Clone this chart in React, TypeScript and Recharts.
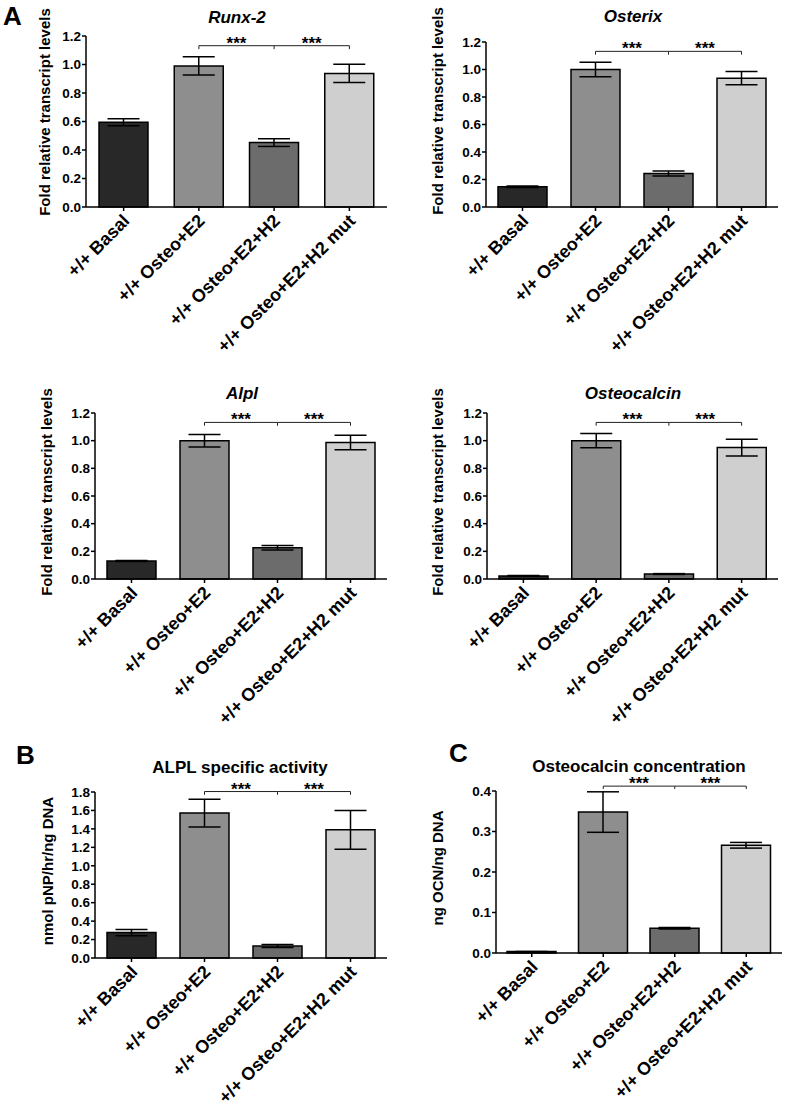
import React from "react";
import { BarChart, Bar, XAxis, YAxis, ErrorBar, Cell, ReferenceLine } from "recharts";

const FONT = "'Liberation Sans', Arial, Helvetica, sans-serif";

const GROUPS = ["+/+ Basal", "+/+ Osteo+E2", "+/+ Osteo+E2+H2", "+/+ Osteo+E2+H2 mut"];
const FILLS = ["#282828", "#8e8e8e", "#6c6c6c", "#cfcfcf"];

const RUNX2 = [0.595, 0.99, 0.452, 0.937];
const RUNX2_ERR = [0.024, 0.064, 0.027, 0.064];
const OSTERIX = [0.147, 1.0, 0.243, 0.937];
const OSTERIX_ERR = [0.005, 0.052, 0.018, 0.048];
const ALPL = [0.13, 1.0, 0.226, 0.987];
const ALPL_ERR = [0.003, 0.045, 0.016, 0.052];
const OCN = [0.022, 1.0, 0.036, 0.95];
const OCN_ERR = [0.003, 0.052, 0.003, 0.061];
const ALPL_ACT = [0.276, 1.571, 0.131, 1.39];
const ALPL_ACT_ERR = [0.034, 0.15, 0.016, 0.21];
const OCN_CONC = [0.0035, 0.348, 0.061, 0.266];
const OCN_CONC_ERR = [0.0005, 0.05, 0.002, 0.007];

const FOLD_TICKS = [0, 0.2, 0.4, 0.6, 0.8, 1.0, 1.2];
const ACT_TICKS = [0, 0.2, 0.4, 0.6, 0.8, 1.0, 1.2, 1.4, 1.6, 1.8];
const CONC_TICKS = [0, 0.1, 0.2, 0.3, 0.4];

// significance brackets: [line level, tip level]
const FOLD_BRACKET = [1.132, 1.108];
const ACT_BRACKET = [1.805, 1.77];
const CONC_BRACKET = [0.412, 0.405];

const rows = (vals: number[], errs: number[]) =>
  GROUPS.map((g, i) => ({ group: g, value: vals[i], err: errs[i] }));

const SlantTick = (props: any) => {
  const { x, y, payload } = props;
  const ax = x + 7;
  const ay = y + 9;
  return (
    <text
      x={ax}
      y={ay}
      transform={`rotate(-45 ${ax} ${ay})`}
      textAnchor="end"
      fontSize={18}
      fontWeight="bold"
      fontFamily={FONT}
      fill="#000"
    >
      {payload.value}
    </text>
  );
};

type PanelProps = {
  plotLeft: number;
  plotTop: number;
  plotW: number;
  plotH: number;
  vals: number[];
  errs: number[];
  ticks: number[];
  bracket: number[];
};

const starLabel = { value: "***", position: "top" as const, offset: -3, fontSize: 17, fontWeight: "bold", fill: "#000", fontFamily: FONT };

function Panel({ plotLeft, plotTop, plotW, plotH, vals, errs, ticks, bracket }: PanelProps) {
  const yw = 50;
  const mt = 30;
  const xh = 150;
  const data = rows(vals, errs);
  const [lv, tv] = bracket;
  return (
    <div style={{ position: "absolute", left: plotLeft - yw, top: plotTop - mt }}>
      <BarChart
        width={yw + plotW + 6}
        height={mt + plotH + xh}
        data={data}
        margin={{ top: mt, right: 6, left: 0, bottom: 0 }}
      >
        <XAxis
          dataKey="group"
          interval={0}
          height={xh}
          tick={<SlantTick />}
          tickSize={4}
          axisLine={{ stroke: "#000", strokeWidth: 1.5 }}
          tickLine={{ stroke: "#000", strokeWidth: 1.5 }}
        />
        <YAxis
          width={yw}
          domain={[ticks[0], ticks[ticks.length - 1]]}
          ticks={ticks}
          interval={0}
          tickSize={4}
          tickMargin={1}
          tickFormatter={(v: number) => v.toFixed(1)}
          tick={{ fontSize: 13.5, fontWeight: "bold", fill: "#000", fontFamily: FONT }}
          axisLine={{ stroke: "#000", strokeWidth: 1.5 }}
          tickLine={{ stroke: "#000", strokeWidth: 1.5 }}
        />
        <Bar dataKey="value" barSize={49} stroke="#000" strokeWidth={1.5} isAnimationActive={false}>
          {data.map((d, i) => (
            <Cell key={d.group} fill={FILLS[i]} />
          ))}
          <ErrorBar dataKey="err" width={16} stroke="#000" strokeWidth={1.5} isAnimationActive={false} />
        </Bar>
        <ReferenceLine
          ifOverflow="visible"
          segment={[{ x: GROUPS[1], y: lv }, { x: GROUPS[2], y: lv }]}
          stroke="#222"
          strokeWidth={1}
          label={starLabel}
        />
        <ReferenceLine
          ifOverflow="visible"
          segment={[{ x: GROUPS[2], y: lv }, { x: GROUPS[3], y: lv }]}
          stroke="#222"
          strokeWidth={1}
          label={starLabel}
        />
        {[1, 2, 3].map((i) => (
          <ReferenceLine
            key={i}
            ifOverflow="visible"
            segment={[{ x: GROUPS[i], y: lv }, { x: GROUPS[i], y: tv }]}
            stroke="#222"
            strokeWidth={1}
          />
        ))}
      </BarChart>
    </div>
  );
}

const titleStyle = { fontFamily: FONT, fontWeight: "bold" as const, fill: "#000" };

export default function App() {
  return (
    <div style={{ position: "absolute", left: 0, top: 0, width: 787, height: 1117, background: "#fff", overflow: "hidden" }}>
      <Panel plotLeft={86} plotTop={36} plotW={301} plotH={171} vals={RUNX2} errs={RUNX2_ERR} ticks={FOLD_TICKS} bracket={FOLD_BRACKET} />
      <Panel plotLeft={486} plotTop={42} plotW={292} plotH={165} vals={OSTERIX} errs={OSTERIX_ERR} ticks={FOLD_TICKS} bracket={FOLD_BRACKET} />
      <Panel plotLeft={95} plotTop={413} plotW={292} plotH={166} vals={ALPL} errs={ALPL_ERR} ticks={FOLD_TICKS} bracket={FOLD_BRACKET} />
      <Panel plotLeft={487} plotTop={413} plotW={291} plotH={166} vals={OCN} errs={OCN_ERR} ticks={FOLD_TICKS} bracket={FOLD_BRACKET} />
      <Panel plotLeft={95} plotTop={792} plotW={292} plotH={166} vals={ALPL_ACT} errs={ALPL_ACT_ERR} ticks={ACT_TICKS} bracket={ACT_BRACKET} />
      <Panel plotLeft={496} plotTop={791} plotW={286} plotH={162} vals={OCN_CONC} errs={OCN_CONC_ERR} ticks={CONC_TICKS} bracket={CONC_BRACKET} />
      <svg width={787} height={1117} style={{ position: "absolute", left: 0, top: 0, pointerEvents: "none" }}>
        <text x={3} y={25} fontSize={26} {...titleStyle}>A</text>
        <text x={16} y={764} fontSize={26} {...titleStyle}>B</text>
        <text x={449} y={762} fontSize={26} {...titleStyle}>C</text>

        <text x={237} y={23} fontSize={17} fontStyle="italic" textAnchor="middle" {...titleStyle}>Runx-2</text>
        <text x={633} y={22} fontSize={17} fontStyle="italic" textAnchor="middle" {...titleStyle}>Osterix</text>
        <text x={242} y={399} fontSize={17} fontStyle="italic" textAnchor="middle" {...titleStyle}>Alpl</text>
        <text x={633} y={399} fontSize={17} fontStyle="italic" textAnchor="middle" {...titleStyle}>Osteocalcin</text>
        <text x={240} y={773} fontSize={17} textAnchor="middle" {...titleStyle}>ALPL specific activity</text>
        <text x={639} y={772} fontSize={17} textAnchor="middle" {...titleStyle}>Osteocalcin concentration</text>

        <text transform="translate(44 112) rotate(-90)" fontSize={15} textAnchor="middle" dominantBaseline="central" {...titleStyle}>Fold relative transcript levels</text>
        <text transform="translate(437 111) rotate(-90)" fontSize={15} textAnchor="middle" dominantBaseline="central" {...titleStyle}>Fold relative transcript levels</text>
        <text transform="translate(46 492) rotate(-90)" fontSize={15} textAnchor="middle" dominantBaseline="central" {...titleStyle}>Fold relative transcript levels</text>
        <text transform="translate(437 492) rotate(-90)" fontSize={15} textAnchor="middle" dominantBaseline="central" {...titleStyle}>Fold relative transcript levels</text>
        <text transform="translate(47 871) rotate(-90)" fontSize={15} textAnchor="middle" dominantBaseline="central" {...titleStyle}>nmol pNP/hr/ng DNA</text>
        <text transform="translate(437 868) rotate(-90)" fontSize={15} textAnchor="middle" dominantBaseline="central" {...titleStyle}>ng OCN/ng DNA</text>
      </svg>
    </div>
  );
}
